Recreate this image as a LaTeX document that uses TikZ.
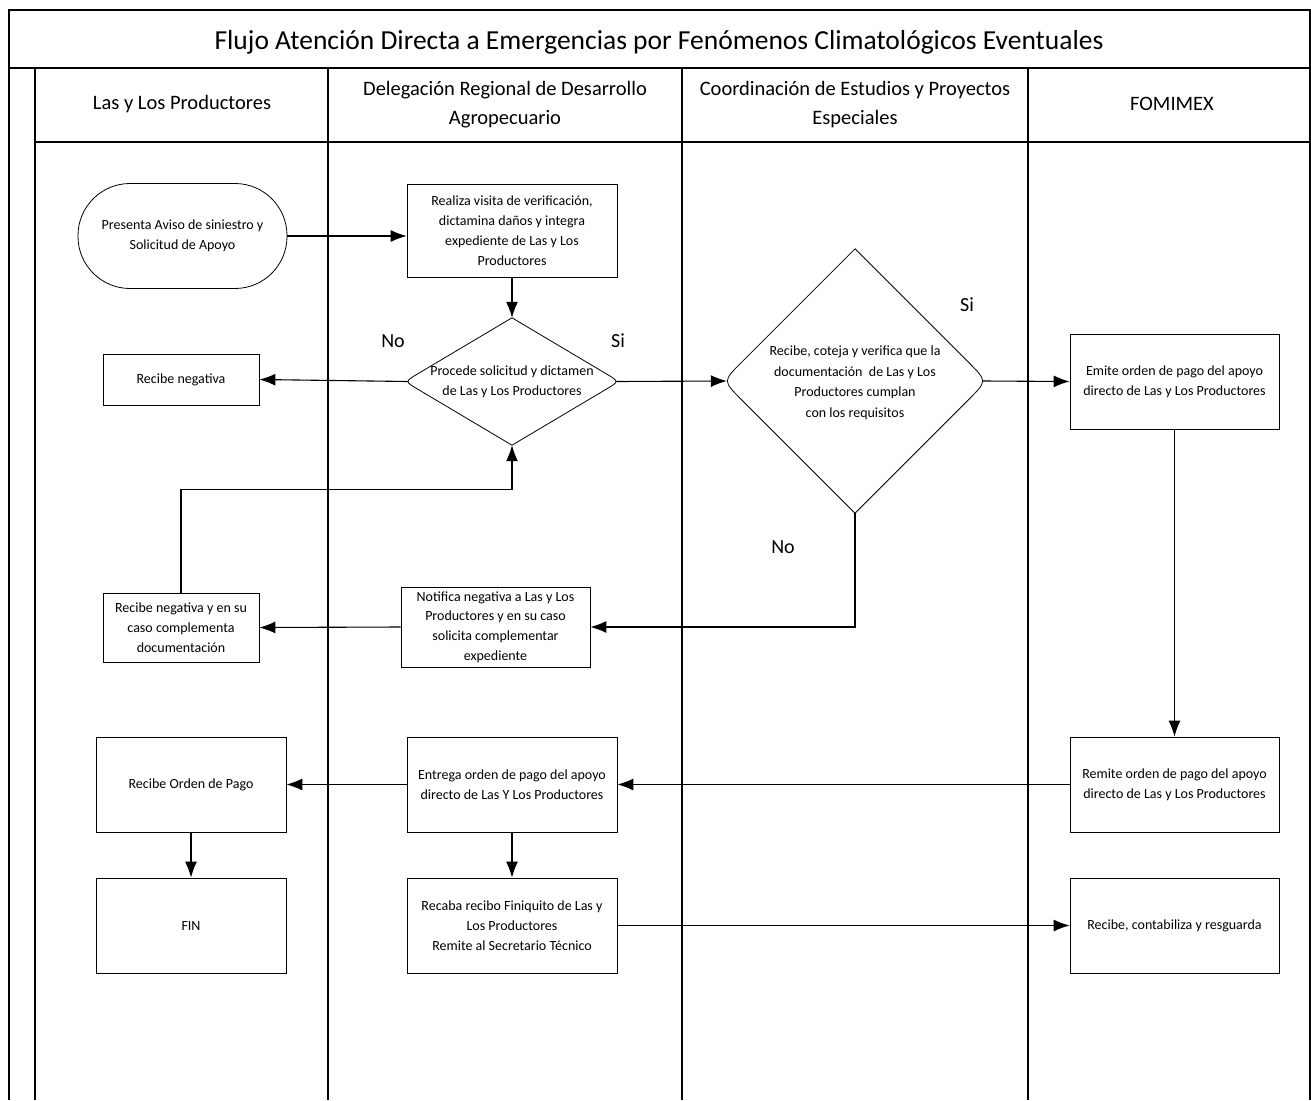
\documentclass[tikz,border=0pt]{standalone}
\usepackage{fontspec}
\setmainfont{Carlito}
\usetikzlibrary{arrows.meta,shapes.geometric,calc}
\begin{document}
\begin{tikzpicture}[x=1pt,y=-1pt,
  lane/.style={line width=1.6pt},
  box/.style={draw,line width=0.8pt,rectangle,align=center,inner sep=2pt,font=\fontsize{14}{19.8}\selectfont,fill=white},
  term/.style={box,rounded corners=52pt},
  dia/.style={diamond,inner sep=0pt},
  dline/.style={line width=0.8pt},
  dtext/.style={align=center,font=\fontsize{14}{20.5}\selectfont,inner sep=0pt},
  head/.style={align=center,font=\fontsize{20.5}{29}\selectfont},
  lbl/.style={font=\fontsize{20}{22}\selectfont},
  arr/.style={line width=1.1pt,-{Latex[length=16pt,width=12pt]}}]
\useasboundingbox (0,0) rectangle (1311,1100);
% frame and lanes
\draw[lane] (9,1100) -- (9,10) -- (1310,10) -- (1310,1100);
\draw[lane] (9,68) -- (1310,68);
\draw[lane] (35,142) -- (1310,142);
\draw[lane] (35,68) -- (35,1100);
\draw[lane] (328,68) -- (328,1100);
\draw[lane] (682,68) -- (682,1100);
\draw[lane] (1028,68) -- (1028,1100);
\node[font=\fontsize{27.5}{32}\selectfont] (title) at (659,42) {Flujo Atención Directa a Emergencias por Fenómenos Climatológicos Eventuales};
\node[head] (h1) at (182,104) {Las y Los Productores};
\node[head] (h2) at (505,105) {Delegación Regional de Desarrollo\\Agropecuario};
\node[head] (h3) at (855,105) {Coordinación de Estudios y Proyectos\\Especiales};
\node[head] (h4) at (1172,104) {FOMIMEX};
% nodes
\node[term,minimum width=209pt,minimum height=105pt] (t) at (182.5,236) {Presenta Aviso de siniestro y\\Solicitud de Apoyo};
\node[box,minimum width=210pt,minimum height=93pt] (r) at (512,230.5) {Realiza visita de verificación,\\dictamina daños y integra\\expediente de Las y Los\\Productores};
\node[dia,minimum width=214pt,minimum height=127pt] (d1) at (512,381.5) {};
\draw[dline] ($(d1.north)!0.88!(d1.west)$) -- (d1.north) -- ($(d1.north)!0.88!(d1.east)$)
  .. controls (d1.east) and (d1.east) .. ($(d1.south)!0.88!(d1.east)$) -- (d1.south)
  -- ($(d1.south)!0.88!(d1.west)$) .. controls (d1.west) and (d1.west) .. ($(d1.north)!0.88!(d1.west)$) -- cycle;
\node[dtext] (d1t) at (512,382) {Procede solicitud y dictamen\\de Las y Los Productores};
\node[box,minimum width=156pt,minimum height=51pt] (rn) at (181,379.5) {Recibe negativa};
\node[dia,minimum width=264pt,minimum height=264pt] (d2) at (855,381) {};
\draw[dline] ($(d2.north)!0.86!(d2.west)$) -- (d2.north) -- ($(d2.north)!0.86!(d2.east)$)
  .. controls (d2.east) and (d2.east) .. ($(d2.south)!0.86!(d2.east)$) -- (d2.south)
  -- ($(d2.south)!0.86!(d2.west)$) .. controls (d2.west) and (d2.west) .. ($(d2.north)!0.86!(d2.west)$) -- cycle;
\coordinate (d1w) at ($(d1.west)+(3,0)$);
\coordinate (d1e) at ($(d1.east)+(-3,0)$);
\coordinate (d2w) at ($(d2.west)+(4,0)$);
\coordinate (d2e) at ($(d2.east)+(-4,0)$);
\node[dtext] (d2t) at (855,383) {Recibe, coteja y verifica que la\\documentación~ de Las y Los\\Productores cumplan\\con los requisitos};
\node[box,minimum width=209pt,minimum height=95pt] (e) at (1174.5,381.5) {Emite orden de pago del apoyo\\directo de Las y Los Productores};
\node[box,minimum width=156pt,minimum height=69pt] (rn2) at (181,627.5) {Recibe negativa y en su\\caso complementa\\documentación};
\node[box,minimum width=189pt,minimum height=80pt] (n) at (495.5,627) {Notifica negativa a Las y Los\\Productores y en su caso\\solicita complementar\\expediente};
\node[box,minimum width=209pt,minimum height=95pt] (rm) at (1174.5,784.5) {Remite orden de pago del apoyo\\directo de Las y Los Productores};
\node[box,minimum width=210pt,minimum height=95pt] (en) at (512,784.5) {Entrega orden de pago del apoyo\\directo de Las Y Los Productores};
\node[box,minimum width=190pt,minimum height=95pt] (ro) at (191,784.5) {Recibe Orden de Pago};
\node[box,minimum width=190pt,minimum height=95pt] (fin) at (191,925.5) {FIN};
\node[box,minimum width=210pt,minimum height=95pt] (rc) at (512,925.5) {Recaba recibo Finiquito de Las y\\Los Productores\\Remite al Secretario Técnico};
\node[box,minimum width=209pt,minimum height=95pt] (rg) at (1174.5,925.5) {Recibe, contabiliza y resguarda};
% labels
\node[lbl] (no1) at (393,341) {No};
\node[lbl] (si1) at (618,341) {Si};
\node[lbl] (si2) at (967,305) {Si};
\node[lbl] (no2) at (783,547) {No};
% connectors
\draw[arr] (t.east) -- (t.east -| r.west);
\draw[arr] (r.south) -- (d1.north);
\draw[arr] (d1w) -- (rn.east);
\draw[arr] (d1e) -- (d2w);
\draw[arr] (d2e) -- (e.west);
\draw[arr] (rn2.north) -- ++(0,-103) -| (d1.south);
\draw[arr] (d2.south) |- (n.east);
\draw[arr] (n.west) -- (rn2.east);
\draw[arr] (e.south) -- (rm.north);
\draw[arr] (rm.west) -- (en.east);
\draw[arr] (en.west) -- (ro.east);
\draw[arr] (ro.south) -- (fin.north);
\draw[arr] (en.south) -- (rc.north);
\draw[arr] (rc.east) -- (rg.west);
\end{tikzpicture}
\end{document}
